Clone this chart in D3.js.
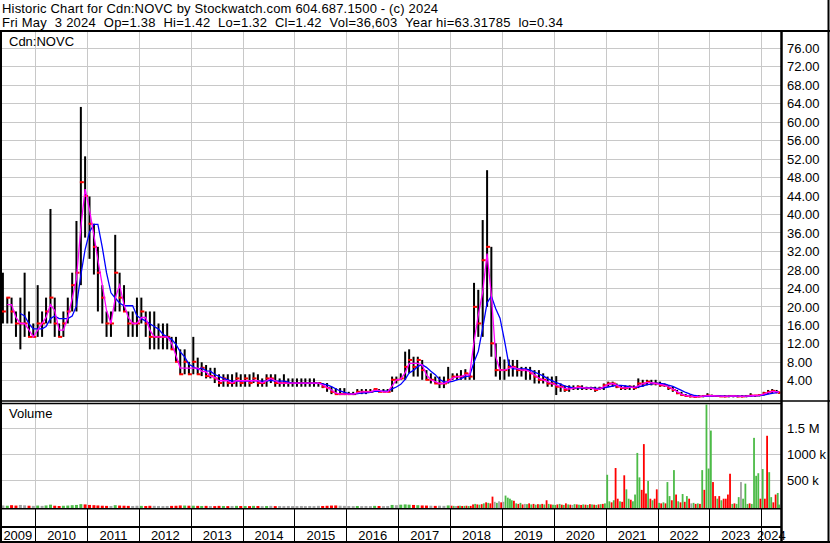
<!DOCTYPE html>
<html>
<head>
<meta charset="utf-8">
<script src="https://cdn.jsdelivr.net/npm/d3@7"></script>
<style>
body { margin: 0; background: #fff; }
svg { display: block; font-family: "Liberation Sans", Arial, sans-serif; }
text { white-space: pre; }
</style>
</head>
<body>
<div id="chart"></div>
<script>
// monthly bars, first month May 2009
var highs = [
  27.4, 22, 22, 19, 22, 27.4, 19, 16.4,                          // 2009 May-Dec
  24.7, 19, 22, 41.2, 22, 16.4, 19, 22, 27.4, 38.6, 63.3, 52.6,  // 2010
  43.9, 38, 33, 24.7, 19, 19, 35.6, 27.4, 24.7, 19, 19, 22,      // 2011
  22, 19, 19, 19, 16.4, 16.4, 16.4, 13.5, 13.5, 10.8, 10.8, 8.1, // 2012
  13.5, 9, 8, 7.4, 6.8, 6.8, 5.4, 5.4, 5.4, 5.4, 5.8, 5.4,       // 2013
  5.4, 5.4, 5.8, 5.4, 4.5, 5.4, 5.4, 5.4, 4.5, 5.4, 4.5, 4.5,    // 2014
  4.5, 4.5, 4.5, 4.5, 4.5, 3.5, 3.5, 3.5, 2.7, 2.4, 2.4, 2.4,    // 2015
  1.6, 1.6, 2.2, 2.2, 2.2, 2.2, 2.2, 2.2, 2.2, 2.2, 4.9, 4.9,    // 2016
  5.6, 10.3, 10.8, 9.2, 9.2, 8.5, 6.3, 5.6, 4.9, 4.9, 4.9, 7.0,  // 2017
  5.6, 5.6, 6.3, 6.5, 5.6, 25.2, 23.7, 38.8, 49.6, 33, 12.1, 9.2, // 2018
  8.6, 8.6, 8.5, 8.5, 7.0, 7.0, 7.0, 6.3, 6.3, 5.6, 4.9, 4.9,    // 2019
  5.0, 3.4, 3.0, 3.0, 3.0, 3.0, 3.0, 2.7, 2.7, 2.7, 2.7, 3.4,    // 2020
  3.8, 3.8, 3.4, 3.0, 3.0, 3.0, 3.0, 4.5, 4.2, 4.2, 4.2, 4.2,    // 2021
  3.8, 3.4, 3.0, 2.7, 2.0, 1.6, 1.1, 1.0, 0.9, 0.9, 0.9, 1.3,    // 2022
  1.0, 0.9, 0.9, 0.9, 0.9, 0.9, 0.9, 0.9, 0.9, 1.3, 0.9, 1.1,    // 2023
  1.6, 2.0, 2.2, 2.0, 1.42                                       // 2024
];
var lows = [
  16.4, 16.4, 16.4, 13.5, 10.8, 13.5, 13.5, 13.5,
  13.5, 13.5, 16.4, 16.4, 13.5, 13.5, 13.5, 16.4, 19, 19, 24.7, 35,
  30.4, 27, 19, 16.4, 13.5, 13.5, 19, 19, 19, 13.5, 13.5, 13.5,
  16.4, 13.5, 10.8, 10.8, 10.8, 10.8, 10.8, 10.8, 8.1, 5.4, 5.4, 5.4,
  5.4, 5.4, 5, 4.5, 4.5, 3.5, 2.7, 2.7, 2.7, 2.7, 2.7, 2.7,
  2.7, 2.7, 3.5, 2.7, 2.7, 2.7, 3.5, 2.7, 2.7, 2.7, 2.7, 2.7,
  2.7, 2.7, 2.7, 2.7, 2.7, 2.7, 2.4, 1.6, 1.1, 1.1, 0.9, 0.9,
  0.9, 0.9, 1.1, 1.1, 1.1, 1.6, 1.6, 1.6, 1.6, 1.6, 1.6, 3.4,
  4.2, 4.2, 5.6, 4.9, 4.9, 4.2, 4.2, 3.4, 3.4, 2.4, 2.4, 3.4,
  4.2, 4.2, 4.2, 4.2, 4.2, 4.2, 13.5, 13.5, 20, 9.2, 4.9, 4.2,
  4.2, 4.9, 4.9, 4.9, 4.9, 4.2, 4.2, 3.4, 3.4, 3.4, 2.7, 2.7,
  0.9, 1.6, 1.6, 1.6, 2.0, 2.0, 2.0, 2.0, 2.0, 1.6, 2.0, 2.0,
  2.7, 2.7, 2.4, 2.0, 2.0, 2.0, 2.0, 2.4, 2.7, 3.0, 3.0, 3.0,
  2.7, 2.7, 2.0, 1.6, 1.1, 0.7, 0.5, 0.4, 0.34, 0.4, 0.4, 0.5,
  0.5, 0.5, 0.5, 0.4, 0.4, 0.4, 0.4, 0.4, 0.4, 0.5, 0.5, 0.6,
  0.8, 1.1, 1.3, 1.3, 1.32
];
var closes = [
  19, 22, 19, 16.4, 16.4, 16.4, 13.5, 13.5,
  16.4, 16.4, 19, 22, 16.4, 13.5, 16.4, 19, 24.7, 27.4, 47, 44,
  38, 33, 27.4, 22, 16.4, 16.4, 27.4, 22, 19, 16.4, 16.4, 16.4,
  19, 16.4, 13.5, 13.5, 13.5, 13.5, 13.5, 10.8, 8.1, 5.4, 8.1, 5.4,
  8.1, 5.4, 6.8, 5, 5, 4.5, 3.5, 4.5, 3.5, 3.5, 4.5, 3.5,
  4.5, 3.5, 4.5, 3.5, 3.5, 4.5, 4.5, 3.5, 3.5, 3.5, 3.5, 3.5,
  3.5, 3.5, 3.5, 3.5, 3.5, 3.5, 2.7, 2.4, 1.6, 1.1, 1.1, 1.1,
  1.1, 1.1, 1.6, 1.6, 1.6, 1.6, 2.2, 1.6, 1.6, 1.6, 4.2, 4.2,
  4.5, 7.0, 8.5, 7.0, 8.5, 6.3, 4.2, 4.2, 3.4, 3.4, 3.4, 4.2,
  4.9, 4.9, 4.9, 5.6, 4.9, 20, 16.4, 30.1, 33, 12.1, 6.3, 6.3,
  6.3, 7.0, 7.0, 6.3, 6.3, 6.3, 5.6, 4.9, 4.2, 4.2, 3.4, 3.4,
  2.7, 2.7, 2.0, 2.4, 2.4, 2.7, 2.4, 2.4, 2.4, 2.0, 2.4, 3.0,
  3.4, 3.4, 2.7, 2.4, 2.4, 2.7, 2.4, 3.4, 3.4, 3.8, 3.4, 3.4,
  3.0, 3.0, 2.4, 2.0, 1.3, 0.9, 0.7, 0.6, 0.5, 0.6, 0.7, 0.8,
  0.7, 0.7, 0.6, 0.6, 0.7, 0.7, 0.6, 0.6, 0.7, 0.8, 0.8, 0.9,
  1.3, 1.6, 1.8, 1.5, 1.42
];

// volume in thousands, monthly May 2009 - Dec 2017
var volEarly = [
  20, 15, 25, 18, 30, 22, 15, 12,
  18, 12, 20, 35, 15, 10, 14, 18, 25, 30, 45, 40,
  30, 25, 20, 15, 12, 10, 25, 18, 15, 12, 10, 14,
  12, 10, 14, 12, 10, 8, 10, 12, 14, 20, 18, 15,
  15, 12, 10, 12, 10, 8, 12, 10, 8, 10, 12, 10,
  10, 8, 12, 10, 8, 10, 12, 8, 10, 8, 10, 8,
  8, 10, 8, 10, 8, 12, 10, 14, 18, 20, 15, 12,
  10, 8, 10, 8, 10, 8, 12, 10, 8, 10, 30, 25,
  35, 40, 35, 30, 25, 20, 18, 15, 12, 15, 12, 20
];
// volume in thousands, half-months from Jan 2018
var volLate = [
  15, 12, 10, 12, 15, 10, 12, 15, 10, 12,
  40, 50,
  40, 35, 45, 60, 80, 70,
  60, 190, 90, 70, 100, 80,
  90, 210, 170, 150, 120, 110,
  60, 50, 70, 40, 50, 45, 60, 40, 50, 35, 45, 40, 50, 40, 120, 50, 40, 35,
  30, 40, 50, 35, 30, 60, 40, 35, 30, 45, 40, 35, 30, 40, 35, 30, 45, 40, 35, 30, 40, 45, 50, 60,
  610, 100, 80, 120, 740, 150, 100, 90, 600, 330, 150, 130, 100, 230, 1030, 560, 320, 1200, 250, 490, 150, 120, 150, 330,
  70, 60, 80, 60, 470, 200, 120, 700, 230, 100, 80, 240, 90, 200, 150, 60, 70, 50, 60, 50, 700, 320, 1960, 730,
  1460, 470, 200, 150, 200, 120, 150, 150, 230, 630, 50, 60, 50, 180, 470, 150, 440, 50, 60, 50, 1320, 590, 640, 150,
  720, 150, 1360, 660, 180, 80, 230, 260, 37
];
// g = up, r = down, n = unchanged
var volLateDir = ("rgnrgrgrgr" + "rg" + "rgrgrg" + "rrngnr" + "nggggr" +
  "grgrngrgrgrgrgrgrg" + "grgrgrgrngrgrgrgrgrgrgrg" +
  "ggrgrrgrrggrggggrrrgrgrr" + "grgrggrgrgrgrgrngrgrgrgg" +
  "grrgrgrrrrgrggngggrggggr" + "grrggrrgg").split("");

var priceTicks = [4, 8, 12, 16, 20, 24, 28, 32, 36, 40, 44, 48, 52, 56, 60, 64, 68, 72, 76];
var volTicks = [500, 1000, 1500];
var volTickLabels = ["500 k", "1000 k", "1.5 M"];
var years = [2009, 2010, 2011, 2012, 2013, 2014, 2015, 2016, 2017, 2018, 2019, 2020, 2021, 2022, 2023, 2024];
var titleLine = "Historic Chart for Cdn:NOVC by Stockwatch.com 604.687.1500 - (c) 2024";
var infoLine = "Fri May  3 2024  Op=1.38  Hi=1.42  Lo=1.32  Cl=1.42  Vol=36,603  Year hi=63.31785  lo=0.34";

var svgwidth = 830, svgheight = 543;
var plotLeft = 2, plotRight = 780.5;
var priceTop = 32, priceBottom = 400.5;
var volTop = 404, volBottom = 508;

var svg = d3.select("#chart").append("svg").attr("width", svgwidth).attr("height", svgheight);
svg.append("rect").attr("width", svgwidth).attr("height", svgheight).attr("fill", "#fff");

var x = d3.scaleTime().domain([new Date(2010, 0, 1), new Date(2024, 0, 1)]).range([35.7, 761.7]);
var y = d3.scaleLinear().domain([0, 76]).range([399.2, 48.3]);
var yv = d3.scaleLinear().domain([0, 2000]).range([506.5, 402.5]);

var bars = highs.map(function(h, i) {
  var last = i == highs.length - 1;
  return { date: last ? new Date(2024, 4, 2) : new Date(2009, 4 + i, 15), hi: h, lo: lows[i], cl: closes[i] };
});
function sma(n) {
  var out = [];
  bars.forEach(function(d, i) {
    if (i < n - 1) return;
    out.push({ date: d.date, v: d3.mean(closes.slice(i - n + 1, i + 1)) });
  });
  return out;
}
var maShort = sma(2);
var maLong = sma(5);

var vols = volEarly.map(function(v, i) {
  var dir = i == 0 ? "n" : closes[i] > closes[i - 1] ? "g" : closes[i] < closes[i - 1] ? "r" : "n";
  return { date: new Date(2009, 4 + i, 15), v: v, dir: dir, w: 3 };
});
volLate.forEach(function(v, k) {
  var mo = Math.floor(k / 2);
  var day = k % 2 ? 23 : 8;
  if (k == volLate.length - 1) day = 2;
  vols.push({ date: new Date(2018, mo, day), v: v, dir: volLateDir[k] || "n", w: 1.8 });
});
var volColor = { g: "#4cbb47", r: "#ff0000", n: "#a0a0a0" };

// grid
var grid = svg.append("g").attr("stroke", "#c8c8c8").attr("stroke-width", 1).attr("shape-rendering", "crispEdges");
var gridYears = years.slice(1);
grid.selectAll(".vp").data(gridYears).enter().append("line")
  .attr("x1", function(d) { return x(new Date(d, 0, 1)); })
  .attr("x2", function(d) { return x(new Date(d, 0, 1)); })
  .attr("y1", priceTop).attr("y2", priceBottom);
grid.selectAll(".vv").data(gridYears).enter().append("line")
  .attr("x1", function(d) { return x(new Date(d, 0, 1)); })
  .attr("x2", function(d) { return x(new Date(d, 0, 1)); })
  .attr("y1", volTop).attr("y2", volBottom);
grid.selectAll(".hp").data(priceTicks).enter().append("line")
  .attr("x1", plotLeft).attr("x2", plotRight)
  .attr("y1", function(d) { return y(d); }).attr("y2", function(d) { return y(d); });
grid.selectAll(".hv").data(volTicks).enter().append("line")
  .attr("x1", plotLeft).attr("x2", plotRight)
  .attr("y1", function(d) { return yv(d); }).attr("y2", function(d) { return yv(d); });

// price panel
svg.append("clipPath").attr("id", "pclip").append("rect")
  .attr("x", plotLeft).attr("y", priceTop).attr("width", plotRight - plotLeft).attr("height", priceBottom - priceTop);
var price = svg.append("g").attr("clip-path", "url(#pclip)");

price.selectAll(".bar").data(bars).enter().append("rect")
  .attr("x", function(d) { return x(d.date) - 1; })
  .attr("width", 2)
  .attr("y", function(d) { return y(d.hi); })
  .attr("height", function(d) { return Math.max(1, y(d.lo) - y(d.hi)); })
  .attr("fill", "#000");
price.selectAll(".cl").data(bars).enter().append("rect")
  .attr("x", function(d) { return x(d.date) - 1; })
  .attr("width", 4)
  .attr("y", function(d) { return y(d.cl) - 1; })
  .attr("height", 2)
  .attr("fill", "#ff0000");

var line = d3.line().x(function(d) { return x(d.date); }).y(function(d) { return y(d.v); });
price.append("path").datum(maLong).attr("d", line)
  .attr("fill", "none").attr("stroke", "#0000ff").attr("stroke-width", 1.3);
price.append("path").datum(maShort).attr("d", line)
  .attr("fill", "none").attr("stroke", "#ff00ff").attr("stroke-width", 1.3);

// volume panel
svg.append("g").selectAll("rect").data(vols).enter().append("rect")
  .attr("x", function(d) { return x(d.date) - d.w / 2; })
  .attr("width", function(d) { return d.w; })
  .attr("y", function(d) { return Math.min(yv(d.v), volBottom - 1); })
  .attr("height", function(d) { return volBottom - Math.min(yv(d.v), volBottom - 1); })
  .attr("fill", function(d) { return volColor[d.dir]; });

// frame lines
var frame = svg.append("g").attr("stroke", "#000").attr("fill", "none");
frame.append("line").attr("x1", 0).attr("x2", 830).attr("y1", 31).attr("y2", 31).attr("stroke-width", 2);
frame.append("line").attr("x1", 1).attr("x2", 1).attr("y1", 30).attr("y2", 543).attr("stroke-width", 2);
frame.append("line").attr("x1", 828.5).attr("x2", 828.5).attr("y1", 0).attr("y2", 543).attr("stroke-width", 2);
frame.append("line").attr("x1", 0).attr("x2", 830).attr("y1", 542).attr("y2", 542).attr("stroke-width", 2);
frame.append("line").attr("x1", 0).attr("x2", 830).attr("y1", 401).attr("y2", 401).attr("stroke-width", 1.5);
frame.append("line").attr("x1", 0).attr("x2", 781).attr("y1", 403.6).attr("y2", 403.6).attr("stroke-width", 1.5);
frame.append("line").attr("x1", 0).attr("x2", 781).attr("y1", 508.8).attr("y2", 508.8).attr("stroke-width", 1.6);
frame.append("line").attr("x1", 0).attr("x2", 781).attr("y1", 527).attr("y2", 527).attr("stroke-width", 2);
frame.selectAll(".yd").data(gridYears).enter().append("line")
  .attr("x1", function(d) { return x(new Date(d, 0, 1)); })
  .attr("x2", function(d) { return x(new Date(d, 0, 1)); })
  .attr("y1", 509).attr("y2", 542).attr("stroke-width", 1).attr("shape-rendering", "crispEdges");

// year labels
svg.append("g").selectAll("text").data(years).enter().append("text")
  .attr("x", function(d) {
    var a = Math.max(0, x(new Date(d, 0, 1)));
    var b = Math.min(781, x(new Date(d + 1, 0, 1)));
    return (a + b) / 2;
  })
  .attr("y", 540)
  .attr("text-anchor", "middle")
  .attr("font-size", 13)
  .text(function(d) { return d; });

frame.append("line").attr("x1", 781.5).attr("x2", 781.5).attr("y1", 30).attr("y2", 543).attr("stroke-width", 2.5);

// right axes
var pAxis = svg.append("g").attr("transform", "translate(784,0)")
  .call(d3.axisRight(y).tickValues(priceTicks).tickSize(0).tickPadding(3).tickFormat(d3.format(".2f")));
var vAxis = svg.append("g").attr("transform", "translate(784,0)")
  .call(d3.axisRight(yv).tickValues(volTicks).tickSize(0).tickPadding(3)
    .tickFormat(function(d, i) { return volTickLabels[i]; }));
[pAxis, vAxis].forEach(function(g) {
  g.select(".domain").remove();
  g.attr("font-size", 13).attr("font-family", null);
  g.selectAll("text").attr("fill", "#000");
});

// header texts, stretched to the reference widths
function header(str, yy, width) {
  var t = svg.append("text").attr("x", 2).attr("y", yy).attr("font-size", 13).text(str);
  var w = t.node().getComputedTextLength();
  if (w > 0 && str.length > 1) t.attr("letter-spacing", ((width - w) / (str.length - 1)).toFixed(3));
  return t;
}
header(titleLine, 13, 436);
header(infoLine, 27, 561);
svg.append("text").attr("x", 9).attr("y", 46).attr("font-size", 13).text("Cdn:NOVC");
svg.append("text").attr("x", 9).attr("y", 418).attr("font-size", 13).text("Volume");
</script>
</body>
</html>
